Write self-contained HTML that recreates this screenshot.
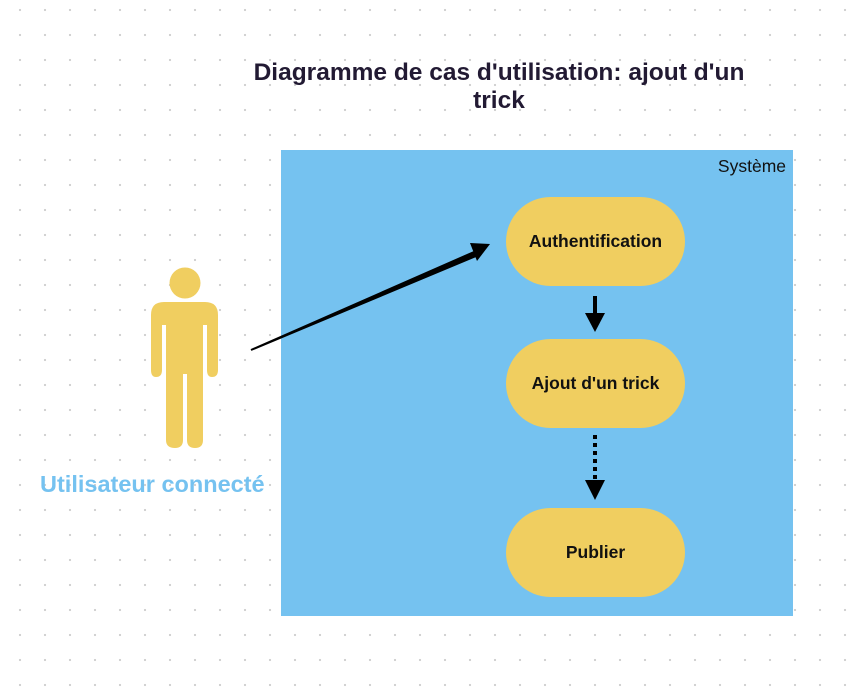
<!DOCTYPE html>
<html><head><meta charset="utf-8"><style>
body{margin:0;width:855px;height:698px;overflow:hidden;background:#fff;
background-image:radial-gradient(circle,#cfcfcf 1px,transparent 1.3px);background-size:25px 25px;background-position:7.5px -2.5px;font-family:"Liberation Sans",sans-serif;position:relative}
.t{position:absolute;left:199px;width:600px;text-align:center;font-weight:bold;font-size:24.5px;color:#221a33;line-height:28px;top:59px}
.sys{position:absolute;left:281px;top:150px;width:512px;height:466px;background:#75c2f0}
.sl{position:absolute;right:7px;top:6px;font-size:17.5px;color:#111}
.n{position:absolute;left:506px;width:179px;height:89px;border-radius:45px;background:#f0ce60;display:flex;align-items:center;justify-content:center;font-size:17.5px;font-weight:bold;color:#111}
.u{position:absolute;left:40px;top:471px;font-size:23.5px;font-weight:bold;color:#75c2f0}
</style></head><body>
<div class="t">Diagramme de cas d'utilisation: ajout d'un<br>trick</div>
<div class="sys"><div class="sl">Système</div></div>
<div class="n" style="top:197px">Authentification</div>
<div class="n" style="top:339px">Ajout d'un trick</div>
<div class="n" style="top:508px">Publier</div>
<svg width="855" height="698" style="position:absolute;left:0;top:0">
<g fill="#f0ce60">
<circle cx="185" cy="283" r="15.5"/>
<path d="M151 315 Q151 302 164 302 L205 302 Q218 302 218 315 L218 370 Q218 377 212 377 Q207 377 207 370 L207 325 L203 325 L203 440 Q203 448 195 448 Q187 448 187 440 L187 374 L183 374 L183 440 Q183 448 175 448 Q166 448 166 440 L166 325 L162 325 L162 370 Q162 377 156 377 Q151 377 151 370 Z"/>
</g>
<path d="M251 350 L474 252 L476 256 Z" fill="#000" stroke="#000" stroke-width="2"/>
<polygon points="470,243 490,244 477,261" fill="#000"/>
<line x1="595" y1="296" x2="595" y2="316" stroke="#000" stroke-width="4"/>
<polygon points="585,313 605,313 595,332" fill="#000"/>
<line x1="595" y1="435" x2="595" y2="482" stroke="#000" stroke-width="4" stroke-dasharray="4,4"/>
<polygon points="585,480 605,480 595,500" fill="#000"/>
</svg>
<div class="u">Utilisateur connecté</div>
</body></html>
